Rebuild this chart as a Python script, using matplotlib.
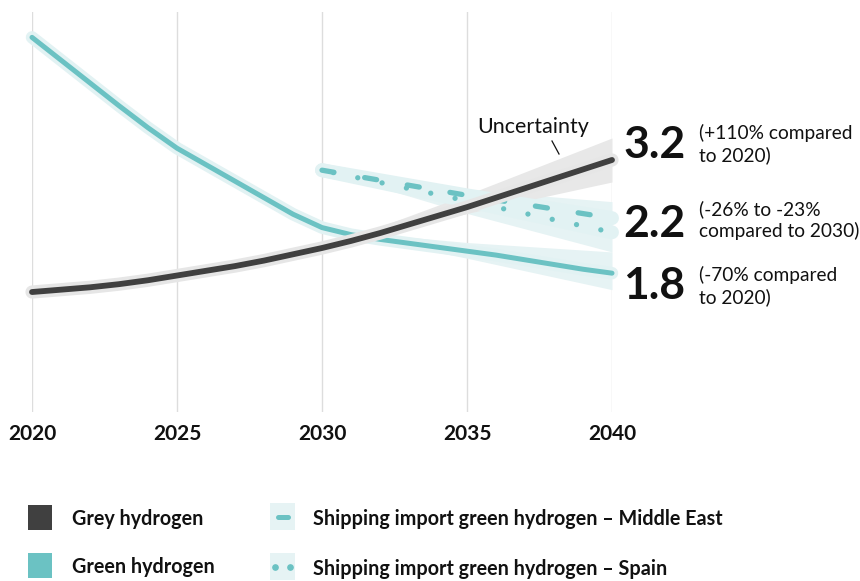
import matplotlib
matplotlib.use("Agg")
import matplotlib.pyplot as plt
import matplotlib.patheffects as pe
from matplotlib.patches import Rectangle

plt.rcParams['font.family'] = ['Lato', 'DejaVu Sans']

# ---------------- data ----------------
years = list(range(2020, 2041))
grey = [1.52, 1.55, 1.58, 1.62, 1.67, 1.73, 1.79, 1.85, 1.92, 2.00, 2.08,
        2.17, 2.27, 2.38, 2.49, 2.60, 2.72, 2.84, 2.96, 3.08, 3.20]
green = [4.76, 4.47, 4.18, 3.89, 3.61, 3.35, 3.14, 2.93, 2.72, 2.51, 2.34,
         2.25, 2.19, 2.14, 2.09, 2.04, 1.99, 1.93, 1.87, 1.81, 1.76]

band_years = [2030, 2035, 2040]
grey_lo = [2.08, 2.52, 2.92]
grey_hi = [2.08, 2.76, 3.48]
green_lo = [2.32, 1.95, 1.55]
green_hi = [2.32, 2.15, 2.03]

ship_years = [2030, 2035, 2040]
ship_me = [3.07, 2.75, 2.46]
ship_es = [3.07, 2.68, 2.28]
ship_lo = [3.07, 2.52, 2.03]
ship_hi = [3.07, 2.82, 2.67]

xticks = [2020, 2025, 2030, 2035, 2040]
xticklabels = ["2020", "2025", "2030", "2035", "2040"]

end_values = ["3.2", "2.2", "1.8"]
end_notes = ["(+110% compared\nto 2020)", "(-26% to -23%\ncompared to 2030)",
             "(-70% compared\nto 2020)"]
legend_labels = ["Grey hydrogen", "Green hydrogen",
                 "Shipping import green hydrogen \u2013 Middle East",
                 "Shipping import green hydrogen \u2013 Spain"]

# ---------------- colours ----------------
C_GREY = "#404040"
C_GREY_HALO = "#e6e6e6"
C_GREY_BAND = "#e8e8e8"
C_TEAL = "#6bc2c3"
C_TEAL_HALO = "#e2f2f3"
C_TEAL_BAND = "#e6f3f4"

W, H = 860, 581
fig = plt.figure(figsize=(W / 100, H / 100), dpi=100)

left = 32 / W
width = 580 / W
bottom = (H - 411.5) / H
ytop = 5.08
height = (ytop * 78.6) / H
ax = fig.add_axes([left, bottom, width, height])
ax.set_xlim(2020, 2040)
ax.set_ylim(0, ytop)
for s in ax.spines.values():
    s.set_visible(False)
ax.set_yticks([])
ax.set_xticks(xticks)
ax.set_xticklabels(xticklabels, fontsize=15, fontweight='bold', color="#111111")
ax.tick_params(axis='x', length=0, pad=9)
ax.grid(axis='x', color="#dddddd", linewidth=1.0, zorder=0)
ax.set_axisbelow(True)

# bands
ax.fill_between(ship_years, ship_lo, ship_hi, color=C_TEAL_BAND, lw=0, zorder=1, clip_on=False)
ax.fill_between(band_years, green_lo, green_hi, color=C_TEAL_BAND, lw=0, zorder=1, clip_on=False)
ax.fill_between(band_years, grey_lo, grey_hi, color=C_GREY_BAND, lw=0, zorder=1.5, clip_on=False)

# green line
ax.plot(years, green, color=C_TEAL, lw=3.6, solid_capstyle='round', solid_joinstyle='round',
        zorder=3, clip_on=False,
        path_effects=[pe.Stroke(linewidth=9, foreground=C_TEAL_HALO), pe.Normal()])

# shipping lines (halo first)
ax.plot(ship_years, ship_me, color=C_TEAL_HALO, lw=10, solid_capstyle='round', zorder=2, clip_on=False)
ax.plot(ship_years, ship_es, color=C_TEAL_HALO, lw=10, solid_capstyle='round', zorder=2, clip_on=False)
ax.plot(ship_years, ship_me, color=C_TEAL, lw=3.8, linestyle=(0, (2.3, 5.9)),
        dash_capstyle='round', zorder=4, clip_on=False)
ax.plot(ship_years, ship_es, color=C_TEAL, lw=3.8, linestyle=(2.5, (0.01, 4.7)),
        dash_capstyle='round', zorder=4, clip_on=False)

# grey line
ax.plot(years, grey, color=C_GREY, lw=4.2, solid_capstyle='round', solid_joinstyle='round',
        zorder=5, clip_on=False,
        path_effects=[pe.Stroke(linewidth=9.5, foreground=C_GREY_HALO), pe.Normal()])

# ---------------- overlay (pixel coordinates) ----------------
ov = fig.add_axes([0, 0, 1, 1])
ov.set_xlim(0, W)
ov.set_ylim(H, 0)
ov.axis('off')
ov.patch.set_alpha(0)

ov.text(477, 127, "Uncertainty", fontsize=15.5, color="#111111", va='center', ha='left')
ov.plot([552, 559], [141, 154], color="#111111", lw=0.9)

val_y = [145, 224, 286]
note_y = [144, 220, 286]
for v, n, yv, yn in zip(end_values, end_notes, val_y, note_y):
    ov.text(623, yv, v, fontsize=32, fontweight='bold', color="#111111", va='center', ha='left')
    ov.text(699, yn, n, fontsize=13.8, color="#111111", va='center', ha='left', linespacing=1.25)

# legend
ov.add_patch(Rectangle((28, 505), 24, 25, color=C_GREY, lw=0))
ov.add_patch(Rectangle((28, 553), 24, 25, color=C_TEAL, lw=0))
ov.add_patch(Rectangle((270, 503), 25, 27, color=C_TEAL_BAND, lw=0))
ov.add_patch(Rectangle((270, 553), 25, 27, color=C_TEAL_BAND, lw=0))
ov.plot([278, 288], [517, 517], color=C_TEAL, lw=3.6, solid_capstyle='round')
ov.plot([275, 290], [567, 567], color=C_TEAL, lw=0, marker='o', markersize=3.8, linestyle='none')

leg_pos = [(72, 519), (72, 567), (313, 519), (313, 569)]
for lab, (lx, ly) in zip(legend_labels, leg_pos):
    ov.text(lx, ly, lab, fontsize=14.2, fontweight='bold', color="#111111", va='center', ha='left')

fig.savefig("out.png", dpi=100)
